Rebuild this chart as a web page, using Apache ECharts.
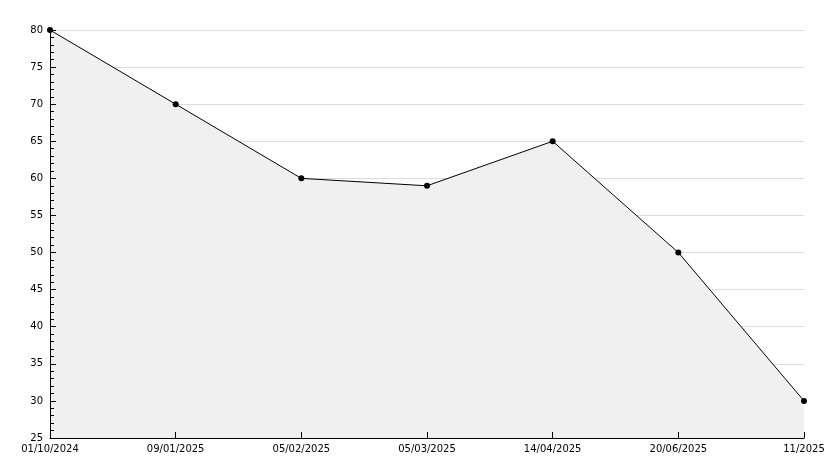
<!DOCTYPE html>
<html>
<head>
<meta charset="utf-8">
<script src="https://cdn.jsdelivr.net/npm/echarts@6/dist/echarts.min.js"></script>
<style>
html,body{margin:0;padding:0;background:#fff;}
#c{width:834px;height:468px;}
</style>
</head>
<body>
<div id="c"></div>
<script>
const categories = ['01/10/2024','09/01/2025','05/02/2025','05/03/2025','14/04/2025','20/06/2025','11/2025'];
const values = [80, 70, 60, 59, 65, 50, 30];
const yMin = 25, yMax = 80, yStep = 5;

const chart = echarts.init(document.getElementById('c'), null, {renderer:'canvas'});
const font = '"DejaVu Sans", Verdana, sans-serif';
chart.setOption({
  animation: false,
  backgroundColor: '#ffffff',
  grid: {left: 50, right: 30, top: 30, bottom: 30, containLabel: false},
  xAxis: {
    type: 'category',
    data: categories,
    boundaryGap: false,
    z: 10,
    axisLine: {show: true, lineStyle: {color: '#000', width: 1}},
    axisTick: {show: true, inside: true, length: 6, alignWithLabel: true, lineStyle: {color: '#000'}},
    axisLabel: {color: '#000', fontFamily: font, fontSize: 10, margin: 6, interval: 0},
    splitLine: {show: false}
  },
  yAxis: [{
    type: 'value',
    min: yMin, max: yMax, interval: yStep,
    z: 0,
    axisLine: {show: false},
    axisTick: {show: false},
    axisLabel: {show: false},
    splitLine: {show: true, lineStyle: {color: '#dcdcdc', width: 1}}
  }, {
    type: 'value',
    position: 'left',
    min: yMin, max: yMax, interval: yStep,
    z: 10,
    axisLine: {show: true, lineStyle: {color: '#000', width: 1}},
    axisTick: {show: true, inside: true, length: 6, lineStyle: {color: '#000'}},
    minorTick: {show: true, splitNumber: 5, length: 4, lineStyle: {color: '#000'}},
    axisLabel: {color: '#000', fontFamily: font, fontSize: 10, margin: 7},
    splitLine: {show: false}
  }],
  series: [{
    type: 'line',
    yAxisIndex: 0,
    data: values,
    symbol: 'circle',
    symbolSize: 6,
    itemStyle: {color: '#000'},
    lineStyle: {color: '#000', width: 1},
    areaStyle: {color: '#f0f0f0', opacity: 1}
  }]
});
</script>
</body>
</html>
